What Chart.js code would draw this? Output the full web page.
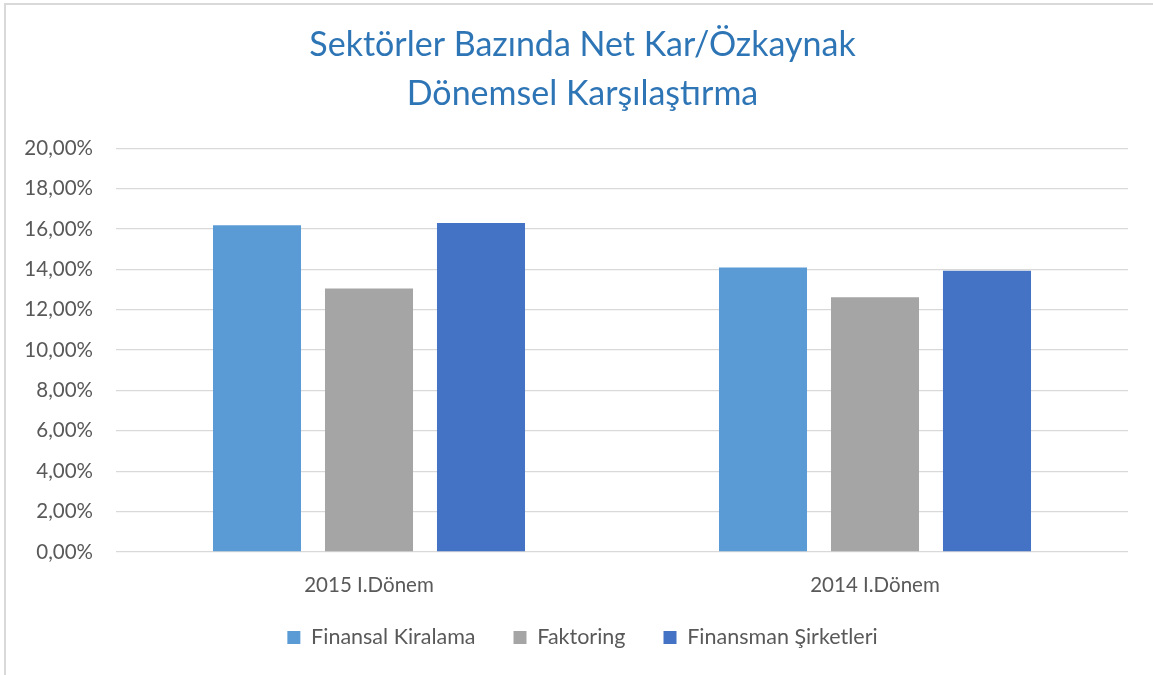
<!DOCTYPE html>
<html>
<head>
<meta charset="utf-8">
<script src="https://cdn.jsdelivr.net/npm/chart.js@4"></script>
<style>
  html, body { margin: 0; padding: 0; background: #fff; }
  #wrap { position: relative; width: 1153px; height: 675px; overflow: hidden; }
  #frame { position: absolute; left: 4px; top: 3px; width: 1300px; height: 800px;
           border-left: 2px solid #d9d9d9; border-top: 2px solid #d9d9d9; box-sizing: border-box; }
  canvas { position: absolute; left: 0; top: 0; }
</style>
</head>
<body>
<div id="wrap">
  <div id="frame"></div>
  <canvas id="c" width="1153" height="675"></canvas>
</div>
<script>
const titleLines = ["Sektörler Bazında Net Kar/Özkaynak", "Dönemsel Karşılaştırma"];
const categories = ["2015 I.Dönem", "2014 I.Dönem"];
const seriesNames = ["Finansal Kiralama", "Faktoring", "Finansman Şirketleri"];
const finansalKiralama = [16.19, 14.09];
const faktoring = [13.05, 12.62];
const finansmanSirketleri = [16.30, 13.93];
const yTicks = [0, 2, 4, 6, 8, 10, 12, 14, 16, 18, 20];

const FONT = "Lato, 'Noto Sans', sans-serif";
const colors = ["#5B9BD5", "#A5A5A5", "#4472C4"];
const seriesData = [finansalKiralama, faktoring, finansmanSirketleri];

// let tick labels extend into the layout padding without being clipped
const unclipLabels = {
  id: 'unclipLabels',
  afterLayout(chart) {
    chart.scales.y.left = 0;
    chart.scales.x.bottom = chart.height;
  }
};

new Chart(document.getElementById('c'), {
  type: 'bar',
  data: {
    labels: categories,
    datasets: seriesNames.map((n, i) => ({
      label: n,
      data: seriesData[i],
      backgroundColor: colors[i],
      borderWidth: 0,
      categoryPercentage: 0.664,
      barPercentage: 0.786
    }))
  },
  plugins: [unclipLabels],
  options: {
    responsive: false,
    animation: false,
    devicePixelRatio: 1,
    layout: { padding: { left: 37, right: 25, top: 0, bottom: 16.75 } },
    plugins: {
      title: {
        display: true,
        text: titleLines,
        color: "#2E75B6",
        font: { family: FONT, size: 34, weight: 'normal', lineHeight: 1.43 },
        padding: { top: 21, bottom: 30 }
      },
      legend: {
        position: 'bottom',
        labels: {
          color: "#595959",
          font: { family: FONT, size: 21.5 },
          boxWidth: 13, boxHeight: 13,
          padding: 38
        }
      },
      tooltip: { enabled: false }
    },
    scales: {
      x: {
        grid: { display: false },
        border: { display: false },
        ticks: { color: "#595959", font: { family: FONT, size: 20.5 }, padding: 13 },
        afterFit: (s) => { s.height = 36.75; }
      },
      y: {
        min: 0, max: 20,
        afterBuildTicks: (s) => { s.ticks = yTicks.map(v => ({ value: v })); },
        grid: { color: "#d9d9d9", lineWidth: 1.3, drawTicks: false },
        border: { display: false },
        ticks: {
          color: "#595959",
          font: { family: FONT, size: 20.5 },
          padding: 23,
          callback: (v) => v.toFixed(2).replace('.', ',') + '%'
        },
        afterFit: (s) => { s.width = 79; }
      }
    }
  }
});
</script>
</body>
</html>
